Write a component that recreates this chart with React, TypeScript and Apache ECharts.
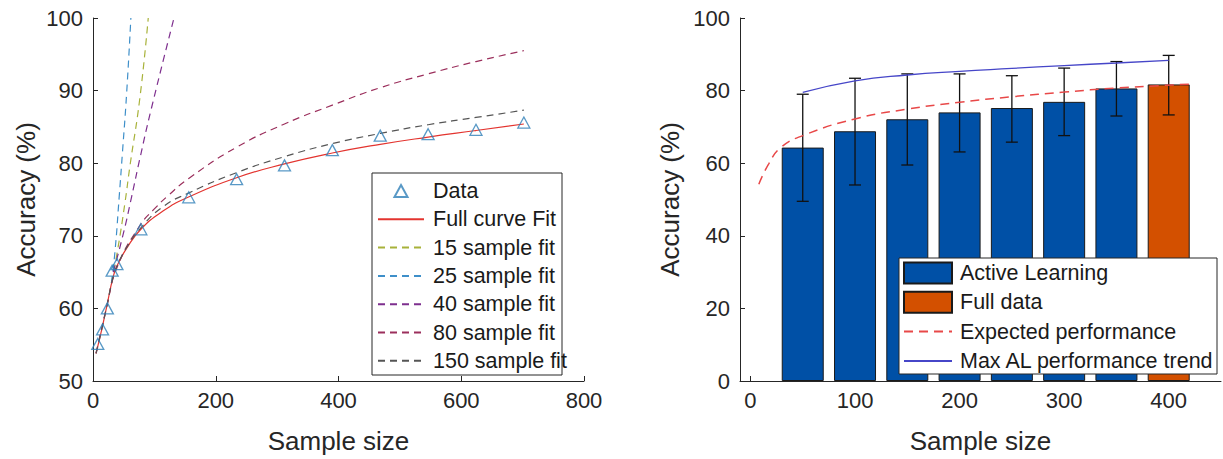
import React, { useEffect, useRef } from "react";
import * as echarts from "echarts";

const FONT = "'Liberation Sans', Arial, Helvetica, sans-serif";
const AXIS_COLOR = "#262626";

// ---------- Left panel: learning-curve fits ----------
const dataX = [7.8, 15.6, 23.4, 31.2, 39, 78, 156, 234, 312, 390, 468, 546, 624, 702];
const dataAcc = [55.1, 57.1, 60.0, 65.2, 66.1, 70.9, 75.3, 77.8, 79.7, 81.8, 83.8, 84.0, 84.6, 85.6];

const fullFitX = [5, 14, 22, 33, 40, 55, 78, 114, 152, 234, 312, 390, 468, 546, 624, 702];
const fullFitY = [53.8, 57, 60.1, 64.4, 66.0, 68.3, 70.9, 73.4, 75.2, 78, 79.9, 81.4, 82.6, 83.6, 84.5, 85.4];

const fit15X = [30, 40, 52, 60, 76.4, 90];
const fit15Y = [63.5, 68, 74.5, 79.5, 89, 100];

const fit25X = [30, 36, 42.7, 48, 54.7, 61.7];
const fit25Y = [63.5, 68, 75.4, 81.5, 89.5, 100];

const fit40X = [33, 50, 63, 76, 95, 132];
const fit40Y = [65, 70.5, 75.4, 80.5, 87.5, 100];

const fit80X = [5, 22, 40, 78, 100, 122, 156, 234, 312, 390, 468, 546, 624, 702];
const fit80Y = [53.8, 60.1, 65.8, 71.6, 73.7, 75.5, 77.9, 82.2, 85.4, 88.0, 90.4, 92.3, 94.0, 95.5];

const fit150X = [5, 14, 22, 33, 40, 55, 78, 114, 156, 234, 312, 390, 468, 546, 624, 702];
const fit150Y = [53.8, 57, 60.1, 64.4, 66.0, 68.4, 71.1, 74.0, 75.9, 78.7, 80.9, 82.7, 84.1, 85.3, 86.3, 87.3];

// ---------- Right panel: active learning bars ----------
const alX = [50, 100, 150, 200, 250, 300, 350];
const alAcc = [64.3, 68.8, 72.1, 74.0, 75.2, 76.9, 80.6];
const fullX = [400];
const fullAcc = [81.7];
const errX = [50, 100, 150, 200, 250, 300, 350, 400];
const errLow = [49.5, 54.0, 59.5, 63.1, 65.8, 67.6, 73.0, 73.3];
const errHigh = [79.0, 83.4, 84.6, 84.6, 84.1, 86.2, 88.0, 89.7];

const expX = [8, 17.6, 29, 50, 100, 150, 200, 250, 300, 350, 422];
const expY = [54.2, 59.9, 64.3, 67.6, 72.2, 74.9, 76.8, 78.3, 79.6, 80.7, 81.8];

const maxX = [50, 100, 150, 200, 250, 300, 350, 400];
const maxY = [79.5, 82.7, 84.3, 85.3, 86.1, 86.9, 87.6, 88.3];

const rightTicks = [0, 100, 200, 300, 400];

const zip = (xs: number[], ys: number[]) => xs.map((x, i) => [x, ys[i]]);

const axisBase = {
  axisLine: { show: true, onZero: false, lineStyle: { color: AXIS_COLOR, width: 1 } },
  axisTick: { show: true, inside: true, length: 5, lineStyle: { color: AXIS_COLOR } },
  splitLine: { show: false },
  nameLocation: "middle" as const,
  nameTextStyle: { fontSize: 26, color: AXIS_COLOR, fontFamily: FONT },
};

const TICK_FONT = 22;
const LEGEND_FONT = 21.5;
const TRANSPARENT = "rgba(0,0,0,0)";
const TRIANGLE_ICON = "path://M6,0 L12,11 L0,11 Z";

export default function App() {
  const ref = useRef<HTMLDivElement>(null);
  useEffect(() => {
    document.body.style.margin = "0";
    if (!ref.current) return;
    const chart = echarts.init(ref.current, null, { renderer: "svg" });
    const dash = [7, 5];
    const lineSeries = (name: string, xs: number[], ys: number[], color: string, dashed: boolean, width = 1.2) => ({
      name,
      type: "line",
      xAxisIndex: 0,
      yAxisIndex: 0,
      data: zip(xs, ys),
      showSymbol: false,
      symbol: "none",
      smooth: 0.5,
      clip: true,
      lineStyle: { color, width, type: dashed ? dash : "solid" },
      itemStyle: { color: TRANSPARENT, borderColor: TRANSPARENT },
      z: 3,
    });

    const option: any = {
      animation: false,
      backgroundColor: "#ffffff",
      textStyle: { fontFamily: FONT },
      grid: [
        { left: 93, top: 18, width: 491, height: 370 },
        { left: 740, top: 18, width: 481, height: 370 },
      ],
      xAxis: [
        {
          ...axisBase,
          type: "value",
          gridIndex: 0,
          min: 0,
          max: 800,
          interval: 200,
          name: "Sample size",
          nameGap: 47,
          axisLabel: { fontSize: TICK_FONT, color: AXIS_COLOR, margin: 8, fontFamily: FONT },
        },
        {
          ...axisBase,
          type: "value",
          gridIndex: 1,
          min: -10,
          max: 450,
          name: "Sample size",
          nameGap: 47,
          axisTick: { ...axisBase.axisTick, customValues: rightTicks },
          axisLabel: { fontSize: TICK_FONT, color: AXIS_COLOR, margin: 8, fontFamily: FONT, customValues: rightTicks },
        },
      ],
      yAxis: [
        {
          ...axisBase,
          type: "value",
          gridIndex: 0,
          min: 50,
          max: 100,
          interval: 10,
          name: "Accuracy (%)",
          nameGap: 54,
          axisLabel: { fontSize: TICK_FONT, color: AXIS_COLOR, margin: 10, fontFamily: FONT },
        },
        {
          ...axisBase,
          type: "value",
          gridIndex: 1,
          min: 0,
          max: 100,
          interval: 20,
          name: "Accuracy (%)",
          nameGap: 57,
          axisLabel: { fontSize: TICK_FONT, color: AXIS_COLOR, margin: 10, fontFamily: FONT },
        },
      ],
      legend: [
        {
          orient: "vertical",
          left: 377,
          top: 179,
          z: 10,
          itemWidth: 46,
          itemHeight: 12,
          itemGap: 4.3,
          padding: 0,
          selectedMode: false,
          symbolKeepAspect: true,
          textStyle: { fontSize: LEGEND_FONT, lineHeight: 24, color: "#1a1a1a", fontFamily: FONT, padding: [0, 0, 0, 4] },
          data: [
            { name: "Data", icon: TRIANGLE_ICON },
            "Full curve Fit",
            "15 sample fit",
            "25 sample fit",
            "40 sample fit",
            "80 sample fit",
            "150 sample fit",
          ],
        },
        {
          orient: "vertical",
          left: 903,
          top: 261,
          z: 10,
          itemWidth: 48,
          itemHeight: 21,
          itemGap: 5.3,
          padding: 0,
          selectedMode: false,
          textStyle: { fontSize: LEGEND_FONT, lineHeight: 24, color: "#1a1a1a", fontFamily: FONT, padding: [0, 0, 0, 3] },
          data: [
            { name: "Active Learning", icon: "rect" },
            { name: "Full data", icon: "rect" },
            "Expected performance",
            "Max AL performance trend",
          ],
        },
      ],
      graphic: [
        {
          type: "rect",
          z: 8,
          shape: { x: 372, y: 173, width: 190, height: 202 },
          style: { fill: "#ffffff", stroke: AXIS_COLOR, lineWidth: 1 },
        },
        {
          type: "rect",
          z: 8,
          shape: { x: 899, y: 258, width: 318, height: 116 },
          style: { fill: "#ffffff", stroke: AXIS_COLOR, lineWidth: 1 },
        },
      ],
      series: [
        lineSeries("Full curve Fit", fullFitX, fullFitY, "#E3342F", false),
        lineSeries("15 sample fit", fit15X, fit15Y, "#A8B23A", true),
        lineSeries("25 sample fit", fit25X, fit25Y, "#3E8FC9", true),
        lineSeries("40 sample fit", fit40X, fit40Y, "#7E2F8E", true),
        lineSeries("80 sample fit", fit80X, fit80Y, "#9B2F5C", true),
        lineSeries("150 sample fit", fit150X, fit150Y, "#555555", true),
        {
          name: "Data",
          type: "scatter",
          xAxisIndex: 0,
          yAxisIndex: 0,
          data: zip(dataX, dataAcc),
          symbol: "triangle",
          symbolSize: [12, 11],
          itemStyle: { color: TRANSPARENT, borderColor: "#2F80B8", borderWidth: 1.3 },
          z: 4,
        },
        {
          name: "Active Learning",
          type: "bar",
          xAxisIndex: 1,
          yAxisIndex: 1,
          data: zip(alX, alAcc),
          barWidth: 42,
          barGap: "-100%",
          itemStyle: { color: "#0050A6", borderColor: "#1a1a1a", borderWidth: 1 },
          z: 2,
        },
        {
          name: "Full data",
          type: "bar",
          xAxisIndex: 1,
          yAxisIndex: 1,
          data: zip(fullX, fullAcc),
          barWidth: 42,
          barGap: "-100%",
          itemStyle: { color: "#D35000", borderColor: "#1a1a1a", borderWidth: 1 },
          z: 2,
        },
        {
          name: "errorbars",
          type: "custom",
          xAxisIndex: 1,
          yAxisIndex: 1,
          z: 5,
          data: errX.map((x, i) => [x, errLow[i], errHigh[i]]),
          encode: { x: 0, y: [1, 2] },
          renderItem: (_params: any, api: any) => {
            const x = api.value(0);
            const lo = api.coord([x, api.value(1)]);
            const hi = api.coord([x, api.value(2)]);
            const cap = 6;
            const st = { stroke: "#111111", lineWidth: 1.3 };
            return {
              type: "group",
              children: [
                { type: "line", shape: { x1: lo[0], y1: lo[1], x2: hi[0], y2: hi[1] }, style: st },
                { type: "line", shape: { x1: lo[0] - cap, y1: lo[1], x2: lo[0] + cap, y2: lo[1] }, style: st },
                { type: "line", shape: { x1: hi[0] - cap, y1: hi[1], x2: hi[0] + cap, y2: hi[1] }, style: st },
              ],
            };
          },
        },
        {
          name: "Expected performance",
          type: "line",
          xAxisIndex: 1,
          yAxisIndex: 1,
          data: zip(expX, expY),
          showSymbol: false,
          symbol: "none",
          smooth: 0.5,
          lineStyle: { color: "#E84848", width: 1.5, type: [9, 6] },
          itemStyle: { color: TRANSPARENT, borderColor: TRANSPARENT },
          z: 6,
        },
        {
          name: "Max AL performance trend",
          type: "line",
          xAxisIndex: 1,
          yAxisIndex: 1,
          data: zip(maxX, maxY),
          showSymbol: false,
          symbol: "none",
          smooth: 0.5,
          lineStyle: { color: "#4646C8", width: 1.3 },
          itemStyle: { color: TRANSPARENT, borderColor: TRANSPARENT },
          z: 6,
        },
      ],
    };
    chart.setOption(option);
    return () => chart.dispose();
  }, []);
  return <div ref={ref} style={{ width: 1223, height: 459 }} />;
}
